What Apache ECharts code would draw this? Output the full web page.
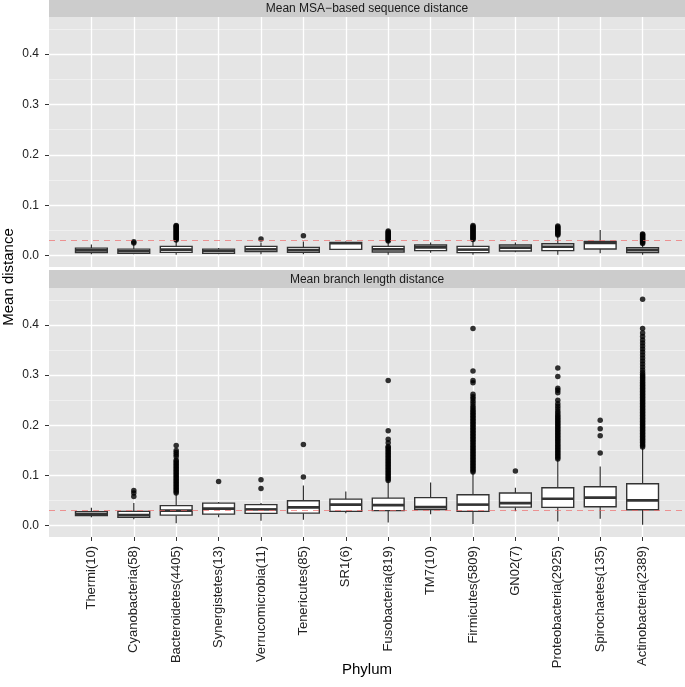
<!DOCTYPE html>
<html><head><meta charset="utf-8">
<script src="https://cdn.jsdelivr.net/npm/echarts@6/dist/echarts.min.js"></script>
<style>html,body{margin:0;padding:0;background:#fff}#c{width:685px;height:687px}</style>
</head><body><div id="c"></div>
<script>
// ---------------- data ----------------
const categories = ['Thermi(10)','Cyanobacteria(58)','Bacteroidetes(4405)','Synergistetes(13)','Verrucomicrobia(11)','Tenericutes(85)','SR1(6)','Fusobacteria(819)','TM7(10)','Firmicutes(5809)','GN02(7)','Proteobacteria(2925)','Spirochaetes(135)','Actinobacteria(2389)'];
const panelTitles = ['Mean MSA\u2212based sequence distance','Mean branch length distance'];
const yTicks = [0, 0.1, 0.2, 0.3, 0.4];
const yMinorTicks = [0.05, 0.15, 0.25, 0.35, 0.45];
const refLine = 0.03;

// [min, q1, median, q3, max] per category
const msaBoxes = [
  [0.003, 0.006, 0.0105, 0.015, 0.022],
  [0.003, 0.0046, 0.0086, 0.013, 0.023],
  [0.002, 0.0066, 0.012, 0.0185, 0.030],
  [0.003, 0.0046, 0.0093, 0.013, 0.015],
  [0.003, 0.008, 0.0125, 0.0185, 0.026],
  [0.003, 0.0066, 0.011, 0.0165, 0.028],
  [0.012, 0.0125, 0.0245, 0.026, 0.028],
  [0.002, 0.0073, 0.0125, 0.0185, 0.028],
  [0.006, 0.010, 0.0165, 0.021, 0.026],
  [0.002, 0.006, 0.012, 0.0185, 0.031],
  [0.007, 0.0093, 0.016, 0.021, 0.026],
  [0.002, 0.010, 0.0178, 0.0237, 0.040],
  [0.0046, 0.0132, 0.025, 0.0283, 0.051],
  [0.002, 0.006, 0.011, 0.0158, 0.023]
];
const branchBoxes = [
  [0.017, 0.020, 0.023, 0.028, 0.036],
  [0.013, 0.0165, 0.021, 0.0285, 0.045],
  [0.005, 0.021, 0.030, 0.040, 0.063],
  [0.017, 0.023, 0.034, 0.045, 0.047],
  [0.010, 0.0245, 0.0325, 0.042, 0.045],
  [0.012, 0.025, 0.0365, 0.0497, 0.080],
  [0.025, 0.0285, 0.042, 0.053, 0.068],
  [0.0066, 0.030, 0.041, 0.055, 0.088],
  [0.023, 0.032, 0.037, 0.056, 0.086],
  [0.0034, 0.0285, 0.042, 0.0617, 0.105],
  [0.029, 0.037, 0.045, 0.065, 0.0756],
  [0.0086, 0.0365, 0.0537, 0.0756, 0.131],
  [0.014, 0.0378, 0.056, 0.0776, 0.118],
  [0.002, 0.0318, 0.0504, 0.0836, 0.155]
];
// outliers per category
const msaOutliers = [
  [],
  [0.025, 0.0277],
  [0.031,0.033,0.035,0.037,0.039,0.041,0.043,0.045,0.047,0.049,0.051,0.053,0.055,0.057,0.059,0.060],
  [],
  [0.033],
  [0.0396],
  [],
  [0.029,0.031,0.033,0.035,0.037,0.039,0.041,0.043,0.045,0.047,0.049],
  [],
  [0.032,0.034,0.036,0.038,0.040,0.042,0.044,0.046,0.048,0.050,0.052,0.054,0.056,0.058,0.060],
  [],
  [0.041,0.043,0.045,0.047,0.049,0.051,0.053,0.055,0.057,0.059],
  [],
  [0.024,0.026,0.028,0.030,0.032,0.034,0.036,0.038,0.040,0.042,0.043]
];
const branchOutliers = [
  [],
  [0.058, 0.065, 0.070],
  [0.065,0.068,0.071,0.074,0.077,0.080,0.083,0.086,0.089,0.092,0.095,0.098,0.101,0.104,0.107,0.110,0.113,0.116,0.119,0.122,0.125,0.128,0.131,0.138,0.142,0.146,0.150,0.160],
  [0.088],
  [0.074, 0.0915],
  [0.097, 0.162],
  [],
  [0.090,0.093,0.096,0.099,0.102,0.105,0.108,0.111,0.114,0.117,0.120,0.123,0.126,0.129,0.132,0.135,0.138,0.141,0.144,0.147,0.150,0.153,0.156,0.158,0.165,0.172,0.189,0.289],
  [],
  [0.107,0.110,0.113,0.116,0.119,0.122,0.125,0.128,0.131,0.134,0.137,0.140,0.143,0.146,0.149,0.152,0.155,0.158,0.161,0.164,0.167,0.170,0.173,0.176,0.179,0.182,0.185,0.188,0.191,0.194,0.197,0.200,0.203,0.206,0.209,0.212,0.215,0.218,0.221,0.224,0.227,0.230,0.234,0.238,0.243,0.248,0.253,0.257,0.262,0.285,0.289,0.308,0.393],
  [0.109],
  [0.133,0.136,0.139,0.142,0.145,0.148,0.151,0.154,0.157,0.160,0.163,0.166,0.169,0.172,0.175,0.178,0.181,0.184,0.187,0.190,0.193,0.196,0.199,0.202,0.205,0.208,0.211,0.214,0.217,0.220,0.224,0.228,0.233,0.238,0.243,0.250,0.265,0.270,0.274,0.297,0.314],
  [0.145, 0.179, 0.193, 0.210],
  [0.157,0.160,0.163,0.166,0.169,0.172,0.175,0.178,0.181,0.184,0.187,0.190,0.193,0.196,0.199,0.202,0.205,0.208,0.211,0.214,0.217,0.220,0.223,0.226,0.229,0.232,0.235,0.238,0.241,0.244,0.247,0.250,0.253,0.256,0.259,0.262,0.265,0.268,0.271,0.274,0.277,0.280,0.283,0.286,0.289,0.292,0.295,0.298,0.301,0.305,0.310,0.316,0.322,0.328,0.334,0.340,0.346,0.352,0.358,0.364,0.370,0.377,0.384,0.393,0.451]
];

// ---------------- chart ----------------
const FONT = 'Liberation Sans, Arial, sans-serif';
const yMin = -0.0225, yMax = 0.4735;
const catIdx = categories.map((c, i) => i);
const grids = [
  {left: 49, right: 0, top: 17, height: 250},
  {left: 49, right: 0, top: 288, height: 249}
];
const stripH = [17, 18];
const stripTop = [0, 270];

function renderBox(params, api) {
  const x = api.value(0);
  const pLo = api.coord([x, api.value(1)]);
  const pQ1 = api.coord([x, api.value(2)]);
  const pMd = api.coord([x, api.value(3)]);
  const pQ3 = api.coord([x, api.value(4)]);
  const pHi = api.coord([x, api.value(5)]);
  const hw = api.size([0.75, 0])[0] / 2;
  const stroke = '#333333';
  return {
    type: 'group',
    children: [
      {type: 'line', shape: {x1: pLo[0], y1: pLo[1], x2: pQ1[0], y2: pQ1[1]}, style: {stroke, lineWidth: 1.2}},
      {type: 'line', shape: {x1: pQ3[0], y1: pQ3[1], x2: pHi[0], y2: pHi[1]}, style: {stroke, lineWidth: 1.2}},
      {type: 'rect', shape: {x: pQ1[0] - hw, y: pQ3[1], width: hw * 2, height: pQ1[1] - pQ3[1]}, style: {fill: '#ffffff', stroke, lineWidth: 1.4}},
      {type: 'line', shape: {x1: pMd[0] - hw, y1: pMd[1], x2: pMd[0] + hw, y2: pMd[1]}, style: {stroke, lineWidth: 2.6}}
    ]
  };
}

const xAxes = [0, 1].map(g => ({
  type: 'value', gridIndex: g, min: -1, max: 14, position: 'bottom',
  axisLine: {show: false, onZero: false},
  axisTick: {show: g === 1, length: 4, lineStyle: {color: '#333', width: 1}, customValues: catIdx},
  axisLabel: {show: g === 1, customValues: catIdx, rotate: 90, margin: 9, fontSize: 13, color: '#222', fontFamily: FONT,
    formatter: v => categories[Math.round(v)] || ''},
  splitLine: {show: true, lineStyle: {color: '#ffffff', width: 1.3}}
}));
const yAxes = [];
[0, 1].forEach(g => {
  yAxes.push({
    type: 'value', gridIndex: g, min: yMin, max: yMax, position: 'left',
    axisLine: {show: false, onZero: false},
    axisTick: {show: true, length: 4, lineStyle: {color: '#333', width: 1}, customValues: yTicks},
    axisLabel: {customValues: yTicks, formatter: v => v.toFixed(1), margin: 10, fontSize: 12, color: '#222', fontFamily: FONT},
    splitLine: {show: true, lineStyle: {color: '#ffffff', width: 1.3}}
  });
  yAxes.push({
    type: 'value', gridIndex: g, min: yMin, max: yMax, position: 'right',
    axisLine: {show: false, onZero: false},
    axisTick: {show: false, customValues: yMinorTicks},
    axisLabel: {show: false, customValues: yMinorTicks},
    splitLine: {show: true, lineStyle: {color: '#F2F2F2', width: 0.8}}
  });
});

const series = [];
[[msaBoxes, msaOutliers], [branchBoxes, branchOutliers]].forEach(([boxes, outs], g) => {
  series.push({
    type: 'custom', xAxisIndex: g, yAxisIndex: g * 2, z: 2,
    renderItem: renderBox,
    encode: {x: 0, y: [1, 2, 3, 4, 5]},
    data: boxes.map((b, i) => [i].concat(b))
  });
  const pts = [];
  outs.forEach((arr, i) => arr.forEach(v => pts.push([i, v])));
  series.push({
    type: 'scatter', xAxisIndex: g, yAxisIndex: g * 2, z: 3,
    symbol: 'circle', symbolSize: 5.5,
    itemStyle: {color: '#000000'},
    data: pts,
    markLine: {
      silent: true, symbol: ['none', 'none'], label: {show: false},
      lineStyle: {color: 'rgba(240,100,100,0.65)', type: [6, 5], width: 1.2},
      emphasis: {disabled: true},
      data: [{yAxis: refLine}]
    }
  });
});

const graphics = [];
[0, 1].forEach(g => {
  graphics.push({type: 'rect', shape: {x: 49, y: stripTop[g], width: 636, height: stripH[g]}, style: {fill: '#CCCCCC'}, silent: true});
  graphics.push({type: 'text', x: 367, y: stripTop[g] + stripH[g] / 2 + 0.5,
    style: {text: panelTitles[g], font: '12px ' + FONT, fill: '#1a1a1a', align: 'center', verticalAlign: 'middle', textAlign: 'center', textVerticalAlign: 'middle'}, silent: true});
});
graphics.push({type: 'text', x: 9, y: 277, rotation: Math.PI / 2,
  style: {text: 'Mean distance', font: '15px ' + FONT, fill: '#000', align: 'center', verticalAlign: 'middle', textAlign: 'center', textVerticalAlign: 'middle'}, silent: true});
graphics.push({type: 'text', x: 367, y: 670,
  style: {text: 'Phylum', font: '15px ' + FONT, fill: '#000', align: 'center', verticalAlign: 'middle', textAlign: 'center', textVerticalAlign: 'middle'}, silent: true});

const chart = echarts.init(document.getElementById('c'), null, {renderer: 'canvas'});
chart.setOption({
  animation: false,
  backgroundColor: '#ffffff',
  grid: grids.map(gr => Object.assign({show: true, backgroundColor: '#E5E5E5', borderWidth: 0, containLabel: false}, gr)),
  xAxis: xAxes,
  yAxis: yAxes,
  series: series,
  graphic: graphics
});
</script></body></html>
